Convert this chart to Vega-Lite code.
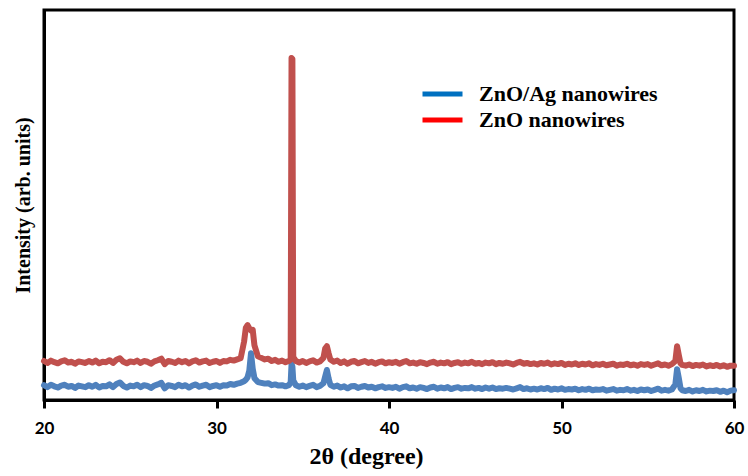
{
  "$schema": "https://vega.github.io/schema/vega-lite/v6.json",
  "width": 690,
  "height": 390,
  "autosize": {"type": "none"},
  "padding": {"left": 44, "top": 10, "right": 14, "bottom": 76},
  "background": "white",
  "config": {
    "view": {"stroke": "black", "strokeWidth": 3},
    "axis": {"grid": false, "domainColor": "black", "domainWidth": 3, "tickColor": "black", "tickWidth": 3}
  },
  "data": {"values": [
    {"t":20.0,"z":10.0,"a":3.8},{"t":20.2,"z":9.5,"a":3.3},{"t":20.4,"z":10.1,"a":3.9},{"t":20.6,"z":9.7,"a":3.5},{"t":20.8,"z":9.4,"a":3.2},
    {"t":21.0,"z":9.9,"a":3.7},{"t":21.2,"z":10.2,"a":3.9},{"t":21.4,"z":9.6,"a":3.4},{"t":21.6,"z":9.8,"a":3.6},{"t":21.8,"z":9.3,"a":3.1},
    {"t":22.0,"z":9.9,"a":3.7},{"t":22.2,"z":9.7,"a":3.5},{"t":22.4,"z":9.5,"a":3.3},{"t":22.6,"z":10.0,"a":3.8},{"t":22.8,"z":9.6,"a":3.4},
    {"t":23.0,"z":10.1,"a":3.9},{"t":23.2,"z":9.4,"a":3.2},{"t":23.4,"z":9.8,"a":3.6},{"t":23.6,"z":9.7,"a":3.5},{"t":23.8,"z":10.2,"a":4.0},
    {"t":24.0,"z":9.5,"a":3.3},{"t":24.2,"z":10.3,"a":4.1},{"t":24.4,"z":10.7,"a":4.5},{"t":24.6,"z":9.8,"a":3.6},{"t":24.8,"z":9.4,"a":3.2},
    {"t":25.0,"z":9.9,"a":3.7},{"t":25.2,"z":9.7,"a":3.5},{"t":25.4,"z":10.1,"a":3.9},{"t":25.6,"z":9.5,"a":3.3},{"t":25.8,"z":10.0,"a":3.8},
    {"t":26.0,"z":9.8,"a":3.6},{"t":26.2,"z":9.3,"a":3.1},{"t":26.4,"z":9.9,"a":3.7},{"t":26.6,"z":10.2,"a":4.0},{"t":26.8,"z":10.6,"a":4.4},
    {"t":27.0,"z":9.2,"a":3.0},{"t":27.2,"z":10.0,"a":3.8},{"t":27.4,"z":9.8,"a":3.6},{"t":27.6,"z":9.5,"a":3.3},{"t":27.8,"z":10.1,"a":3.9},
    {"t":28.0,"z":9.7,"a":3.5},{"t":28.2,"z":10.0,"a":3.8},{"t":28.4,"z":9.4,"a":3.2},{"t":28.6,"z":9.9,"a":3.7},{"t":28.8,"z":10.2,"a":4.0},
    {"t":29.0,"z":9.6,"a":3.4},{"t":29.2,"z":9.9,"a":3.7},{"t":29.4,"z":10.1,"a":3.9},{"t":29.6,"z":9.5,"a":3.3},{"t":29.8,"z":9.8,"a":3.6},
    {"t":30.0,"z":10.0,"a":3.8},{"t":30.2,"z":9.5,"a":3.4},{"t":30.4,"z":10.0,"a":3.8},{"t":30.6,"z":9.9,"a":3.7},{"t":30.8,"z":10.3,"a":4.1},
    {"t":31.0,"z":10.1,"a":3.9},{"t":31.2,"z":10.4,"a":4.2},{"t":31.4,"z":10.7,"a":4.4},{"t":31.6,"z":15.0,"a":4.8},{"t":31.7,"z":18.5,"a":5.2},
    {"t":31.8,"z":19.2,"a":5.8},{"t":31.9,"z":18.4,"a":7.5},{"t":32.0,"z":17.8,"a":12.0},{"t":32.1,"z":18.0,"a":8.0},{"t":32.2,"z":14.0,"a":5.6},
    {"t":32.4,"z":11.2,"a":4.6},{"t":32.6,"z":10.8,"a":4.4},{"t":32.8,"z":10.4,"a":4.2},{"t":33.0,"z":10.6,"a":4.3},{"t":33.2,"z":10.0,"a":3.8},
    {"t":33.4,"z":10.3,"a":4.0},{"t":33.6,"z":9.8,"a":3.7},{"t":33.8,"z":10.1,"a":3.8},{"t":34.0,"z":9.7,"a":3.5},{"t":34.2,"z":10.0,"a":3.8},
    {"t":34.3,"z":10.4,"a":4.5},{"t":34.35,"z":87.7,"a":9.2},{"t":34.4,"z":87.4,"a":8.6},{"t":34.45,"z":11.0,"a":5.0},{"t":34.6,"z":10.0,"a":3.8},
    {"t":34.8,"z":9.6,"a":3.4},{"t":35.0,"z":10.0,"a":3.7},{"t":35.2,"z":9.5,"a":3.3},{"t":35.4,"z":9.9,"a":3.6},{"t":35.6,"z":10.2,"a":3.9},
    {"t":35.8,"z":9.6,"a":3.3},{"t":36.0,"z":9.9,"a":3.6},{"t":36.2,"z":10.8,"a":4.3},{"t":36.3,"z":13.2,"a":6.0},{"t":36.4,"z":13.8,"a":7.7},
    {"t":36.5,"z":12.0,"a":5.5},{"t":36.6,"z":10.4,"a":3.9},{"t":36.8,"z":9.8,"a":3.4},{"t":37.0,"z":10.1,"a":3.7},{"t":37.2,"z":9.5,"a":3.2},
    {"t":37.4,"z":9.9,"a":3.5},{"t":37.6,"z":9.3,"a":3.0},{"t":37.8,"z":9.8,"a":3.5},{"t":38.0,"z":10.0,"a":3.6},{"t":38.2,"z":9.4,"a":3.1},
    {"t":38.4,"z":9.7,"a":3.4},{"t":38.6,"z":10.0,"a":3.6},{"t":38.8,"z":9.5,"a":3.2},{"t":39.0,"z":9.8,"a":3.4},{"t":39.2,"z":9.3,"a":3.0},
    {"t":39.4,"z":9.7,"a":3.3},{"t":39.6,"z":9.9,"a":3.5},{"t":39.8,"z":9.4,"a":3.1},{"t":40.0,"z":9.7,"a":3.3},{"t":40.2,"z":9.5,"a":3.1},
    {"t":40.4,"z":9.8,"a":3.4},{"t":40.6,"z":9.3,"a":2.9},{"t":40.8,"z":9.7,"a":3.3},{"t":41.0,"z":10.0,"a":3.5},{"t":41.2,"z":9.4,"a":3.0},
    {"t":41.4,"z":9.6,"a":3.2},{"t":41.6,"z":9.3,"a":2.9},{"t":41.8,"z":9.7,"a":3.3},{"t":42.0,"z":9.5,"a":3.1},{"t":42.2,"z":9.2,"a":2.8},
    {"t":42.4,"z":9.6,"a":3.2},{"t":42.6,"z":9.8,"a":3.4},{"t":42.8,"z":9.3,"a":2.9},{"t":43.0,"z":9.6,"a":3.2},{"t":43.2,"z":9.4,"a":3.0},
    {"t":43.4,"z":9.7,"a":3.3},{"t":43.6,"z":9.2,"a":2.8},{"t":43.8,"z":9.5,"a":3.1},{"t":44.0,"z":9.7,"a":3.3},{"t":44.2,"z":9.3,"a":2.9},
    {"t":44.4,"z":9.6,"a":3.1},{"t":44.6,"z":9.4,"a":3.0},{"t":44.8,"z":9.8,"a":3.3},{"t":45.0,"z":9.3,"a":2.9},{"t":45.2,"z":9.5,"a":3.1},
    {"t":45.4,"z":9.2,"a":2.8},{"t":45.6,"z":9.6,"a":3.2},{"t":45.8,"z":9.4,"a":2.9},{"t":46.0,"z":9.7,"a":3.2},{"t":46.2,"z":9.2,"a":2.8},
    {"t":46.4,"z":9.5,"a":3.0},{"t":46.6,"z":9.3,"a":2.9},{"t":46.8,"z":9.6,"a":3.1},{"t":47.0,"z":9.4,"a":2.9},{"t":47.2,"z":9.1,"a":2.7},
    {"t":47.4,"z":9.5,"a":3.0},{"t":47.6,"z":9.8,"a":3.3},{"t":47.8,"z":9.3,"a":2.8},{"t":48.0,"z":9.5,"a":3.0},{"t":48.2,"z":9.2,"a":2.7},
    {"t":48.4,"z":9.4,"a":2.9},{"t":48.6,"z":9.1,"a":2.7},{"t":48.8,"z":9.5,"a":3.0},{"t":49.0,"z":9.3,"a":2.8},{"t":49.2,"z":9.6,"a":3.1},
    {"t":49.4,"z":9.1,"a":2.6},{"t":49.6,"z":9.4,"a":2.9},{"t":49.8,"z":9.2,"a":2.7},{"t":50.0,"z":9.5,"a":3.0},{"t":50.2,"z":9.0,"a":2.6},
    {"t":50.4,"z":9.3,"a":2.8},{"t":50.6,"z":9.1,"a":2.7},{"t":50.8,"z":9.4,"a":2.9},{"t":51.0,"z":9.0,"a":2.5},{"t":51.2,"z":9.3,"a":2.8},
    {"t":51.4,"z":9.1,"a":2.6},{"t":51.6,"z":9.4,"a":2.9},{"t":51.8,"z":8.9,"a":2.5},{"t":52.0,"z":9.2,"a":2.7},{"t":52.2,"z":9.0,"a":2.6},
    {"t":52.4,"z":9.3,"a":2.8},{"t":52.6,"z":8.9,"a":2.4},{"t":52.8,"z":9.1,"a":2.6},{"t":53.0,"z":9.3,"a":2.8},{"t":53.2,"z":8.8,"a":2.4},
    {"t":53.4,"z":9.1,"a":2.6},{"t":53.6,"z":9.0,"a":2.5},{"t":53.8,"z":9.3,"a":2.8},{"t":54.0,"z":8.9,"a":2.4},{"t":54.2,"z":9.1,"a":2.6},
    {"t":54.4,"z":8.8,"a":2.3},{"t":54.6,"z":9.2,"a":2.7},{"t":54.8,"z":9.0,"a":2.5},{"t":55.0,"z":9.2,"a":2.7},{"t":55.2,"z":8.8,"a":2.3},
    {"t":55.4,"z":9.1,"a":2.6},{"t":55.6,"z":9.4,"a":2.9},{"t":55.8,"z":8.9,"a":2.4},{"t":56.0,"z":9.1,"a":2.6},{"t":56.2,"z":8.8,"a":2.4},
    {"t":56.4,"z":9.2,"a":2.7},{"t":56.6,"z":10.0,"a":4.0},{"t":56.7,"z":13.8,"a":7.9},{"t":56.8,"z":11.5,"a":5.6},{"t":56.9,"z":9.4,"a":3.0},
    {"t":57.0,"z":9.0,"a":2.5},{"t":57.2,"z":8.8,"a":2.3},{"t":57.4,"z":9.1,"a":2.6},{"t":57.6,"z":8.7,"a":2.2},{"t":57.8,"z":9.0,"a":2.5},
    {"t":58.0,"z":8.8,"a":2.3},{"t":58.2,"z":9.1,"a":2.6},{"t":58.4,"z":8.6,"a":2.2},{"t":58.6,"z":8.9,"a":2.4},{"t":58.8,"z":8.7,"a":2.3},
    {"t":59.0,"z":9.0,"a":2.5},{"t":59.2,"z":8.6,"a":2.1},{"t":59.4,"z":8.9,"a":2.4},{"t":59.6,"z":8.5,"a":2.0},{"t":59.8,"z":8.8,"a":2.4},
    {"t":60.0,"z":8.8,"a":2.5}
  ]},
  "transform": [{"fold": ["a", "z"], "as": ["series", "intensity"]}],
  "encoding": {
    "x": {
      "field": "t", "type": "quantitative",
      "scale": {"domain": [20, 60], "nice": false, "zero": false},
      "axis": {
        "title": "2θ (degree)", "values": [20, 30, 40, 50, 60], "tickSize": 8, "labelFlush": false,
        "labelFont": "Lato", "labelFontWeight": "bold", "labelFontSize": 17, "labelColor": "black", "labelPadding": 12,
        "titleFont": "Liberation Serif", "titleFontWeight": "bold", "titleFontSize": 24, "titleColor": "black", "titlePadding": 8,
        "titleX": 322
      }
    },
    "y": {
      "field": "intensity", "type": "quantitative",
      "scale": {"domain": [0, 100], "nice": false},
      "axis": {
        "title": "Intensity (arb. units)", "ticks": false, "labels": false,
        "titleFont": "Liberation Serif", "titleFontWeight": "bold", "titleFontSize": 20, "titleColor": "black", "titlePadding": 11
      }
    }
  },
  "layer": [
    {
      "mark": {"type": "line", "strokeWidth": 2, "clip": false},
      "encoding": {
        "color": {
          "field": "series", "type": "nominal",
          "scale": {"domain": ["a", "z"], "range": ["#0070C0", "#FF0000"]},
          "legend": {
            "title": null, "orient": "none", "legendX": 376, "legendY": 74,
            "symbolType": "stroke", "symbolSize": 1600, "symbolStrokeWidth": 5, "clipHeight": 20,
            "labelExpr": "datum.label == 'a' ? 'ZnO/Ag nanowires' : 'ZnO nanowires'",
            "labelFont": "Liberation Serif", "labelFontWeight": "bold", "labelFontSize": 22, "labelColor": "black",
            "labelLimit": 400, "labelOffset": 14, "rowPadding": 4
          }
        }
      }
    },
    {
      "mark": {"type": "line", "strokeWidth": 6, "strokeJoin": "round", "strokeCap": "round", "clip": false},
      "encoding": {
        "color": {
          "field": "series", "type": "nominal",
          "scale": {"domain": ["a", "z"], "range": ["#4F81BD", "#C0504D"]},
          "legend": null
        }
      }
    }
  ],
  "resolve": {"scale": {"color": "independent"}, "legend": {"color": "independent"}}
}
